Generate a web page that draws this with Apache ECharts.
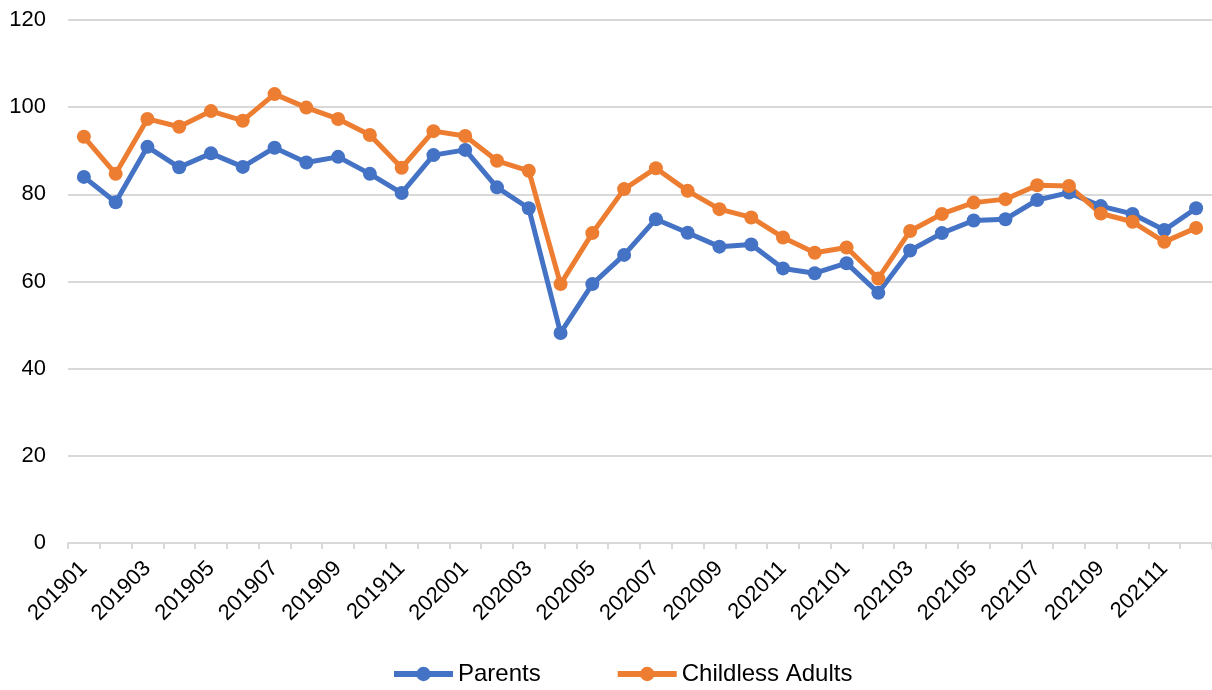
<!DOCTYPE html>
<html>
<head>
<meta charset="utf-8">
<script src="https://cdn.jsdelivr.net/npm/echarts@6/dist/echarts.min.js"></script>
<style>
  html, body { margin: 0; padding: 0; background: #fff; }
  #chart { width: 1212px; height: 690px; }
</style>
</head>
<body>
<div id="chart"></div>
<script>
// months 201901..202112
const months = [
  "201901", "201902", "201903", "201904", "201905", "201906",
  "201907", "201908", "201909", "201910", "201911", "201912",
  "202001", "202002", "202003", "202004", "202005", "202006",
  "202007", "202008", "202009", "202010", "202011", "202012",
  "202101", "202102", "202103", "202104", "202105", "202106",
  "202107", "202108", "202109", "202110", "202111", "202112"
];

const parents = [
  84.0, 78.2, 90.9, 86.2, 89.4, 86.3, 90.7, 87.3, 88.6, 84.7, 80.3, 89.0,
  90.2, 81.6, 76.8, 48.2, 59.4, 66.1, 74.3, 71.2, 68.0, 68.5, 63.0, 61.9,
  64.2, 57.4, 67.1, 71.1, 74.0, 74.3, 78.7, 80.4, 77.3, 75.5, 71.8, 76.8
];

const childless = [
  93.2, 84.7, 97.3, 95.5, 99.1, 96.9, 103.0, 99.9, 97.3, 93.6, 86.1, 94.5,
  93.4, 87.7, 85.4, 59.4, 71.1, 81.2, 86.0, 80.8, 76.6, 74.7, 70.1, 66.6,
  67.8, 60.7, 71.6, 75.5, 78.1, 78.9, 82.1, 81.9, 75.6, 73.7, 69.1, 72.3
];

const yTicks = { min: 0, max: 120, step: 20 };

const chart = echarts.init(document.getElementById("chart"));
const font = "Liberation Sans, Arial, sans-serif";

chart.setOption({
  animation: false,
  grid: { left: 68, right: -4, top: 20, bottom: 147 },
  legend: {
    data: ["Parents", "Childless Adults"],
    left: 386,
    top: 657,
    itemWidth: 59,
    itemHeight: 18,
    itemGap: 74,
    lineStyle: { width: 6 },
    textStyle: { fontSize: 24, color: "#000", fontFamily: font }
  },
  xAxis: {
    type: "category",
    data: months,
    boundaryGap: true,
    axisLine: { lineStyle: { color: "#d9d9d9", width: 2 } },
    axisTick: { show: true, interval: 0, length: 6, lineStyle: { color: "#d9d9d9", width: 2 } },
    axisLabel: {
      interval: 1,
      rotate: 45,
      margin: 22,
      fontSize: 22,
      color: "#000",
      fontFamily: font
    }
  },
  yAxis: {
    type: "value",
    min: yTicks.min,
    max: yTicks.max,
    interval: yTicks.step,
    axisLine: { show: false },
    axisTick: { show: false },
    splitLine: { lineStyle: { color: "#d9d9d9", width: 2 } },
    axisLabel: { margin: 22, fontSize: 22, color: "#000", fontFamily: font }
  },
  series: [
    {
      name: "Parents",
      type: "line",
      data: parents,
      symbol: "circle",
      symbolSize: 14,
      lineStyle: { width: 5, color: "#4472c4" },
      itemStyle: { color: "#4472c4" }
    },
    {
      name: "Childless Adults",
      type: "line",
      data: childless,
      symbol: "circle",
      symbolSize: 14,
      lineStyle: { width: 5, color: "#ed7d31" },
      itemStyle: { color: "#ed7d31" }
    }
  ]
});
</script>
</body>
</html>
